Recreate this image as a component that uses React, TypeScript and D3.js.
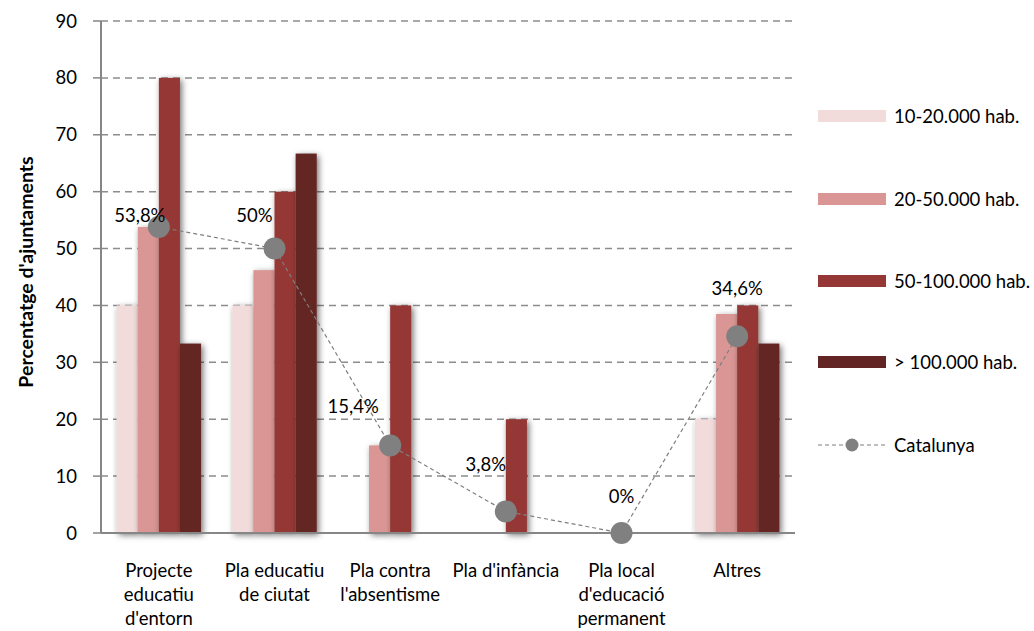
import React, { useEffect, useRef } from 'react';
import * as d3 from 'd3';

const categories = [
  ['Projecte', 'educatiu', "d'entorn"],
  ['Pla educatiu', 'de ciutat'],
  ['Pla contra', "l'absentisme"],
  ["Pla d'infància"],
  ['Pla local', "d'educació", 'permanent'],
  ['Altres'],
];
const seriesNames = ['10-20.000 hab.', '20-50.000 hab.', '50-100.000 hab.', '> 100.000 hab.'];
const s10_20 = [40, 40, 0, 0, 0, 20];
const s20_50 = [53.8, 46.2, 15.4, 0, 0, 38.5];
const s50_100 = [80, 60, 40, 20, 0, 40];
const s100 = [33.3, 66.7, 0, 0, 0, 33.3];
const catalunya = [53.8, 50, 15.4, 3.8, 0, 34.6];
const catalunyaLabels = ['53,8%', '50%', '15,4%', '3,8%', '0%', '34,6%'];
const yTicks = [0, 10, 20, 30, 40, 50, 60, 70, 80, 90];

const colors = ['#F2DCDB', '#D99694', '#953735', '#632523'];
// label offsets relative to the point, as placed in the original
const labelOffsets = [[-19, -5], [-20, -27], [-37, -32], [-20, -40], [0, -30], [0, -41]];

const App = () => {
  const svgRef = useRef<SVGSVGElement>(null);

  useEffect(() => {
    const width = 1034;
    const height = 631;
    const left = 101, right = 795, top = 21, bottom = 533;
    const font = 'Lato, "Open Sans", sans-serif';

    const svg = d3.select(svgRef.current);
    svg.selectAll('*').remove();
    svg.attr('width', width).attr('height', height);

    const defs = svg.append('defs');
    const f = defs.append('filter').attr('id', 'shadow')
      .attr('x', '-50%').attr('y', '-10%').attr('width', '200%').attr('height', '120%');
    f.append('feDropShadow').attr('dx', 2).attr('dy', 2).attr('stdDeviation', 3)
      .attr('flood-color', '#000').attr('flood-opacity', 0.55);

    const names = categories.map(c => c.join(' '));
    const x0 = d3.scaleBand().domain(names).range([left, right]).paddingInner(0.27).paddingOuter(0.135);
    const x1 = d3.scaleBand().domain(seriesNames).range([0, x0.bandwidth()]);
    const y = d3.scaleLinear().domain([0, 90]).range([bottom, top]);

    // gridlines
    svg.append('g').selectAll('line').data(yTicks.filter(t => t > 0)).enter().append('line')
      .attr('x1', left).attr('x2', right)
      .attr('y1', d => y(d)).attr('y2', d => y(d))
      .attr('stroke', '#8c8c8c').attr('stroke-width', 1.5).attr('stroke-dasharray', '7,5');

    // bars
    const series = [s10_20, s20_50, s50_100, s100];
    const rows = names.map((n, i) => ({ n, vals: series.map(s => s[i]) }));
    const g = svg.append('g');
    rows.forEach(r => {
      g.append('g').attr('transform', `translate(${x0(r.n)},0)`)
        .selectAll('rect').data(r.vals.map((v, j) => ({ v, j }))).enter()
        .filter(d => d.v > 0)
        .append('rect')
        .attr('x', d => x1(seriesNames[d.j]) as number)
        .attr('width', x1.bandwidth())
        .attr('y', d => y(d.v))
        .attr('height', d => y(0) - y(d.v))
        .attr('fill', d => colors[d.j])
        .attr('filter', 'url(#shadow)');
    });

    // axes
    svg.append('line').attr('x1', left).attr('x2', left).attr('y1', top).attr('y2', bottom)
      .attr('stroke', '#868686').attr('stroke-width', 2);
    svg.append('line').attr('x1', left).attr('x2', right).attr('y1', bottom).attr('y2', bottom)
      .attr('stroke', '#868686').attr('stroke-width', 2);
    svg.append('g').selectAll('line').data(yTicks).enter().append('line')
      .attr('x1', left - 8).attr('x2', left).attr('y1', d => y(d)).attr('y2', d => y(d))
      .attr('stroke', '#868686').attr('stroke-width', 1.5);
    svg.append('g').selectAll('text').data(yTicks).enter().append('text')
      .attr('x', 77).attr('y', d => y(d) + 6.5).attr('text-anchor', 'end')
      .attr('font-family', font).attr('font-size', 18.5).attr('fill', '#000')
      .text(d => d);

    svg.append('text')
      .attr('transform', `translate(33,272) rotate(-90)`)
      .attr('text-anchor', 'middle').attr('font-family', font).attr('font-weight', 'bold')
      .attr('font-size', 19.5).text("Percentatge d'ajuntaments");

    // x labels
    categories.forEach((lines, i) => {
      const cx = (x0(names[i]) as number) + x0.bandwidth() / 2;
      const t = svg.append('text').attr('text-anchor', 'middle')
        .attr('font-family', font).attr('font-size', 18.5);
      lines.forEach((l, k) => {
        t.append('tspan').attr('x', cx).attr('y', 577 + k * 24).text(l);
      });
    });

    // Catalunya line
    const cx = (i: number) => (x0(names[i]) as number) + x0.bandwidth() / 2;
    const line = d3.line<number>().x((_, i) => cx(i)).y(d => y(d));
    svg.append('path').datum(catalunya).attr('d', line)
      .attr('fill', 'none').attr('stroke', '#7f7f7f').attr('stroke-width', 1.2)
      .attr('stroke-dasharray', '4,3');
    svg.append('g').selectAll('circle').data(catalunya).enter().append('circle')
      .attr('cx', (_, i) => cx(i)).attr('cy', d => y(d)).attr('r', 11)
      .attr('fill', '#808080');
    svg.append('g').selectAll('text').data(catalunya).enter().append('text')
      .attr('x', (_, i) => cx(i) + labelOffsets[i][0])
      .attr('y', (d, i) => y(d) + labelOffsets[i][1])
      .attr('text-anchor', 'middle').attr('font-family', font).attr('font-size', 18.5)
      .text((_, i) => catalunyaLabels[i]);

    // legend
    const lx = 818, lw = 68;
    const legendY = [116, 199, 281, 362];
    seriesNames.forEach((s, i) => {
      svg.append('rect').attr('x', lx).attr('y', legendY[i] - 6).attr('width', lw).attr('height', 12)
        .attr('fill', colors[i]);
      svg.append('text').attr('x', 894).attr('y', legendY[i] + 7)
        .attr('font-family', font).attr('font-size', 18.5).text(s);
    });
    const cy = 445;
    svg.append('line').attr('x1', lx).attr('x2', lx + lw).attr('y1', cy).attr('y2', cy)
      .attr('stroke', '#7f7f7f').attr('stroke-width', 1.2).attr('stroke-dasharray', '4,3');
    svg.append('circle').attr('cx', lx + lw / 2).attr('cy', cy).attr('r', 6.5).attr('fill', '#808080');
    svg.append('text').attr('x', 894).attr('y', cy + 7)
      .attr('font-family', font).attr('font-size', 18.5).text('Catalunya');
  }, []);

  return (
    <svg ref={svgRef} style={{ position: 'absolute', left: 0, top: 0, background: '#fff' }}></svg>
  );
};

export default App;
